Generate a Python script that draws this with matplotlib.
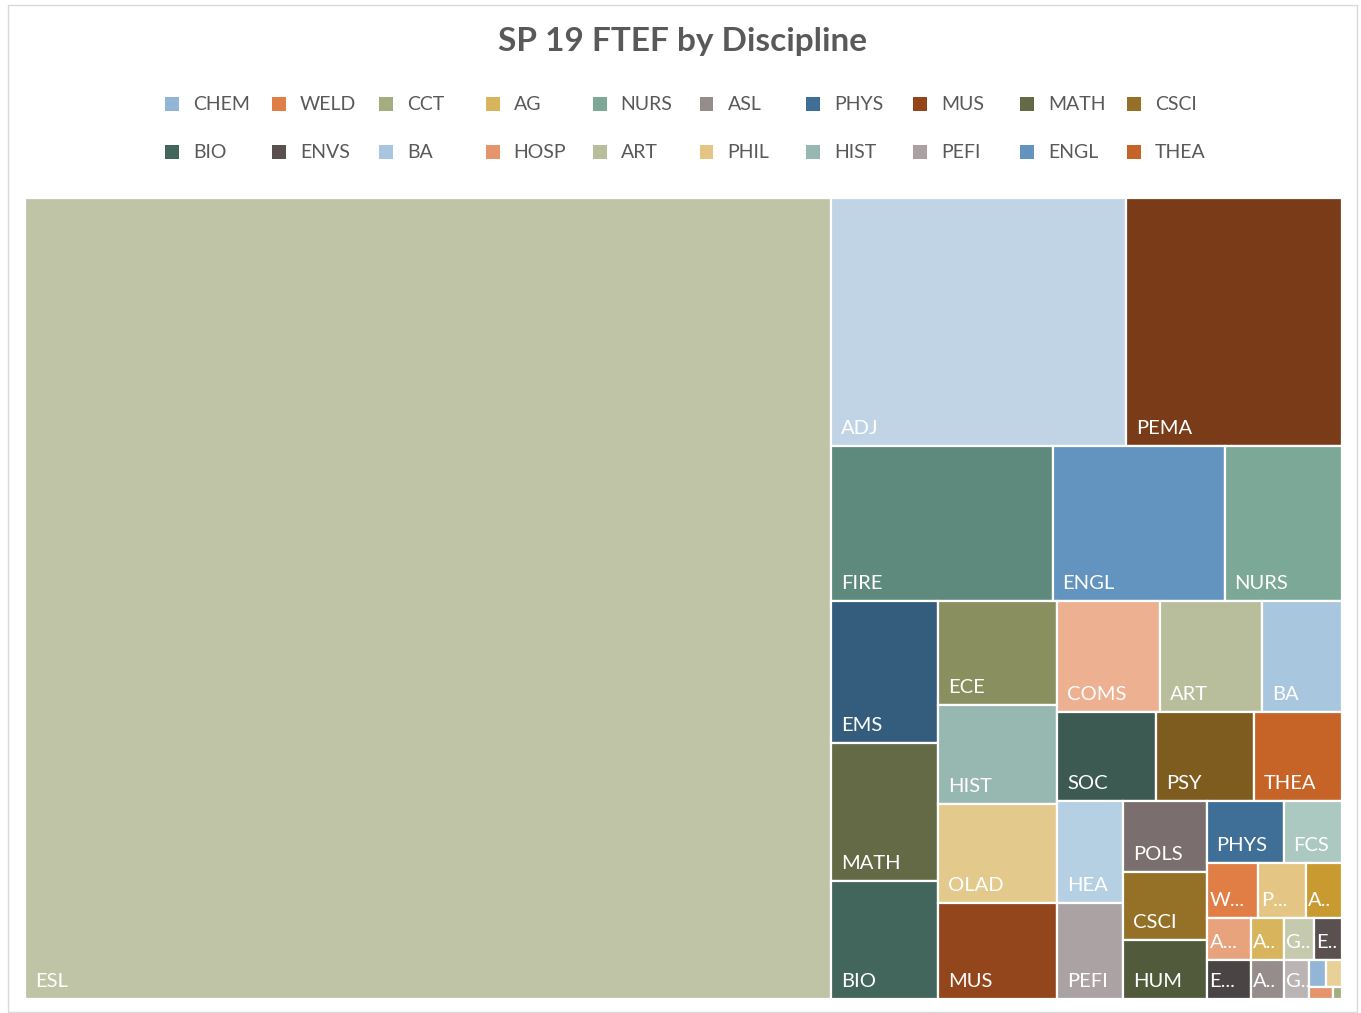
import matplotlib
matplotlib.use("Agg")
import matplotlib.pyplot as plt
from matplotlib.patches import Rectangle

plt.rcParams['font.family'] = ['Lato', 'DejaVu Sans']

# FTEF per discipline, sorted large -> small
disciplines = ["ESL", "ADJ", "PEMA", "FIRE", "ENGL", "NURS", "EMS", "MATH", "BIO",
               "ECE", "HIST", "OLAD", "MUS", "COMS", "ART", "BA", "SOC", "PSY", "THEA",
               "HEA", "PEFI", "POLS", "CSCI", "HUM", "PHYS", "FCS", "WELD", "PHIL",
               "ANTH", "ASTR", "ECON", "AG", "ASL", "GEOG", "ENVS", "GEOL", "CHEM",
               "SPAN", "HOSP", "CCT"]
ftef = [64.561, 7.316, 5.357, 3.433, 2.666, 1.821, 1.519, 1.477, 1.263,
        1.238, 1.178, 1.178, 1.145, 1.142, 1.132, 0.888, 0.881, 0.868, 0.788,
        0.673, 0.634, 0.589, 0.564, 0.490, 0.475, 0.360, 0.283, 0.259,
        0.199, 0.191, 0.173, 0.140, 0.129, 0.1275, 0.119, 0.096, 0.045,
        0.042, 0.029, 0.011]

# legend shows the first 20 disciplines in source order
legend_names = ["CHEM", "WELD", "CCT", "AG", "NURS", "ASL", "PHYS", "MUS", "MATH", "CSCI",
                "BIO", "ENVS", "BA", "HOSP", "ART", "PHIL", "HIST", "PEFI", "ENGL", "THEA"]

colors = {
    "CHEM": "#93b6d6", "WELD": "#e07e45", "CCT": "#a4ad80", "AG": "#d8b45c",
    "NURS": "#7ca898", "ASL": "#968c8c", "PHYS": "#3f6e96", "MUS": "#93461c",
    "MATH": "#646a45", "CSCI": "#957128", "BIO": "#42665c", "ENVS": "#5a5050",
    "BA": "#a9c6df", "HOSP": "#e4956c", "ART": "#b8bd9b", "PHIL": "#e4c584",
    "HIST": "#96b8b0", "PEFI": "#aba3a3", "ENGL": "#6394c0", "THEA": "#c66326",
    "ESL": "#bfc4a7", "ADJ": "#c0d4e6", "PEMA": "#7a3c18", "FIRE": "#5e8a7e",
    "EMS": "#345c7c", "ECE": "#8a8f60", "OLAD": "#e4c98c", "COMS": "#edb091",
    "SOC": "#3c5a52", "PSY": "#7e5c20", "HEA": "#b5cfe3", "POLS": "#7a6f6e",
    "FCS": "#abc9c0", "HUM": "#525a3c", "ANTH": "#c89a30", "ASTR": "#e8a27c",
    "ECON": "#4a4444", "GEOG": "#c5c9ae", "GEOL": "#bab4b4", "SPAN": "#e8d098",
}

W, H = 1361, 1013
fig = plt.figure(figsize=(W / 100, H / 100), dpi=100)


def fx(x):
    return x / W


def fy(y):
    return 1 - y / H


# chart border
fig.add_artist(Rectangle((fx(8), fy(1012)), fx(1357) - fx(8), fy(5) - fy(1012),
                         transform=fig.transFigure, fill=False,
                         edgecolor="#d9d9d9", lw=1))

fig.text(fx(683), fy(41), "SP 19 FTEF by Discipline", ha="center", va="center",
         fontsize=24, fontweight="bold", color="#595959")

# legend, 2 rows x 10 columns
for i, name in enumerate(legend_names):
    row, col = divmod(i, 10)
    x0 = 165 + col * 106.9
    yc = 104 + row * 48
    fig.add_artist(Rectangle((fx(x0), fy(yc + 7)), 14 / W, 14 / H,
                             transform=fig.transFigure, facecolor=colors[name],
                             edgecolor="none"))
    fig.text(fx(x0 + 28), fy(yc), name, ha="left", va="center",
             fontsize=14, color="#595959")


def worst(row, side):
    s = sum(row)
    return max(max(side * side * r / (s * s), s * s / (side * side * r)) for r in row)


def squarify(areas, x, y, dx, dy):
    rects = []
    areas = list(areas)
    while areas:
        side = min(dx, dy)
        row = [areas[0]]
        i = 1
        while i < len(areas) and worst(row + [areas[i]], side) <= worst(row, side):
            row.append(areas[i])
            i += 1
        areas = areas[i:]
        s = sum(row)
        if dx >= dy:
            # column on the left
            w = s / dy
            yy = y
            for a in row:
                h = a / w
                rects.append((x, yy, w, h))
                yy += h
            x += w
            dx -= w
        else:
            # row along the top
            h = s / dx
            xx = x
            for a in row:
                w = a / h
                rects.append((xx, y, w, h))
                xx += w
            y += h
            dy -= h
    return rects


# plot area in pixels
PW, PH = 1317, 801
ax = fig.add_axes([fx(25), fy(999), PW / W, PH / H])
ax.set_xlim(0, PW)
ax.set_ylim(PH, 0)
ax.axis("off")

total = sum(ftef)
areas = [v / total * PW * PH for v in ftef]
rects = squarify(areas, 0, 0, PW, PH)

renderer = fig.canvas.get_renderer()
for name, (x, y, w, h) in zip(disciplines, rects):
    ax.add_patch(Rectangle((x, y), w, h, facecolor=colors[name],
                           edgecolor="white", lw=1.6))
    if h < 32:
        continue
    cands = [(name, 10)] + [(name[:k] + "...", 3) for k in range(len(name) - 1, 0, -1)]
    for label, pad in cands:
        t = ax.text(x + pad, y + h - 12, label, ha="left", va="baseline",
                    fontsize=14.5, color="white")
        if t.get_window_extent(renderer).width <= w - 10:
            break
        t.remove()
    else:
        if w > 20:
            ax.text(x + 2, y + h - 12, name[0] + "..", ha="left", va="baseline",
                    fontsize=14.5, color="white")

fig.savefig("out.png", dpi=100)
